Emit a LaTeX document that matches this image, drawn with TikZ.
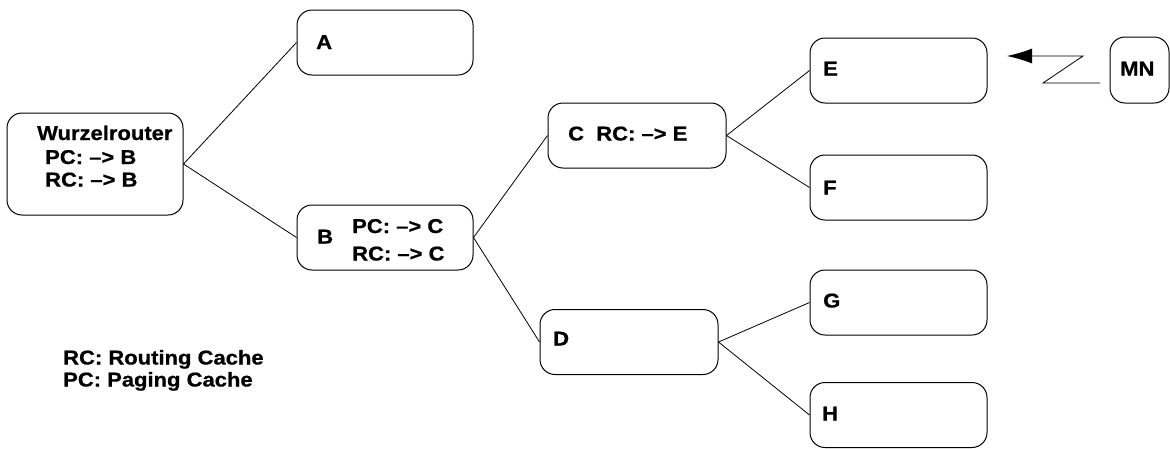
\documentclass[tikz,border=0pt]{standalone}
\usepackage{fontspec}
\setmainfont[FakeStretch=1.1, BoldFeatures={FakeBold=0.8}]{Liberation Sans}
\usetikzlibrary{arrows.meta}
\definecolor{mnink}{HTML}{000000}
\tikzset{
  rtr/.style={draw=mnink, rounded corners=15pt, minimum width=176pt, minimum height=65pt, inner sep=0pt, line width=1pt},
  txt/.style={anchor=base west, inner sep=0pt, font=\fontsize{20}{23}\selectfont\bfseries},
  lnk/.style={draw=mnink, line width=0.8pt},
  hop/.style={-{Latex[length=25pt,width=15pt]}, line width=0.8pt, color=mnink},
}

\begin{document}
\begin{tikzpicture}[x=1pt,y=-1pt]
  \useasboundingbox (0,0) rectangle (1170,448);
  % router boxes
  \node[rtr, minimum height=102pt] (wr) at (95,164) {};
  \node[rtr] (a) at (385,42.5) {};
  \node[rtr] (b) at (385,237.5) {};
  \node[rtr, minimum width=178pt] (c) at (637,135.5) {};
  \node[rtr, minimum width=178pt] (d) at (629,342) {};
  \node[rtr, minimum width=177pt] (e) at (898.5,70.5) {};
  \node[rtr, minimum width=177pt] (f) at (898.5,187.5) {};
  \node[rtr, minimum width=177pt] (g) at (898.5,302.5) {};
  \node[rtr, minimum width=177pt] (h) at (898.5,415) {};
  \node[rtr, minimum width=59pt, minimum height=66pt] (mn) at (1139.5,70) {};
  % texts
  \node[txt] (wrname) at (37,140) {Wurzelrouter};
  \node[txt] (wrpc) at (45,164) {PC: –> B};
  \node[txt] (wrrc) at (45,186.5) {RC: –> B};
  \node[txt] (aname) at (316,49) {A};
  \node[txt] (bname) at (317,243.5) {B};
  \node[txt] (bpc) at (352,233) {PC: –> C};
  \node[txt] (brc) at (352,260.5) {RC: –> C};
  \node[txt] (cname) at (568,140.5) {C\ \ RC: –> E};
  \node[txt] (dname) at (553,345.5) {D};
  \node[txt] (ename) at (823,75.5) {E};
  \node[txt] (fname) at (823,194.5) {F};
  \node[txt] (gname) at (823,307.5) {G};
  \node[txt] (hname) at (822,420.5) {H};
  \node[txt] (mnname) at (1120,75.5) {MN};
  \node[txt] (legrc) at (63,364.5) {RC: Routing Cache};
  \node[txt] (legpc) at (63,386.5) {PC: Paging Cache};
  % tree links
  \draw[lnk] (wr.east) -- (a.west);
  \draw[lnk] (wr.east) -- (b.west);
  \draw[lnk] (b.east) -- (c.west);
  \draw[lnk] (b.east) -- (d.west);
  \draw[lnk] (c.east) -- (e.west);
  \draw[lnk] (c.east) -- (f.west);
  \draw[lnk] (d.east) -- (g.west);
  \draw[lnk] (d.east) -- (h.west);
  % radio hop of the mobile node
  \coordinate (zs) at (1100,83);
  \coordinate (zb) at (1043,83);
  \coordinate (zt) at (1083,56);
  \coordinate (ztip) at (1007,56);
  \draw[hop] (zs) -- (zb) -- (zt) -- (ztip);
\end{tikzpicture}
\end{document}
